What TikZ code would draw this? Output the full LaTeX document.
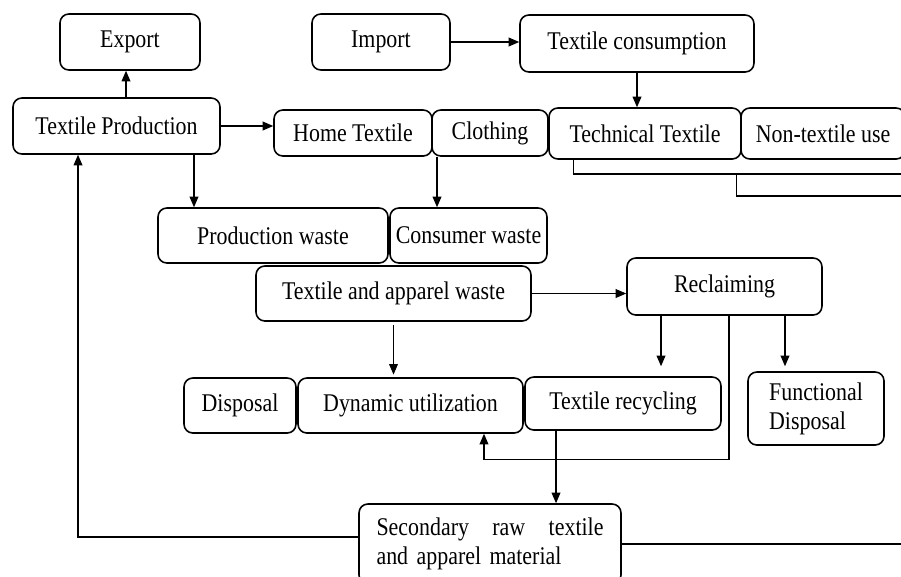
\documentclass[tikz,border=0pt]{standalone}
\usepackage{fontspec}
\setmainfont[FakeStretch=0.86]{Liberation Serif}
\usetikzlibrary{arrows.meta,calc}
\tikzset{
  box/.style={draw, rounded corners=5pt, line width=0.9pt, align=center, inner sep=2pt,
    font=\fontsize{14.5}{16.5}\selectfont},
  arr/.style={-{Triangle[length=6pt,width=5pt]}, line width=0.6pt},
  wire/.style={line width=0.6pt}
}
\begin{document}
\begin{tikzpicture}[x=0.02cm,y=-0.02cm]
\useasboundingbox (0,0) rectangle (901,576);
\clip (0,0) rectangle (901,576);
\fill[white] (0,0) rectangle (901,576);

\node[box,minimum width=2.8cm,minimum height=1.12cm] (exp) at (130,42) {Export};
\node[box,minimum width=2.76cm,minimum height=1.12cm] (imp) at (381,42) {Import};
\node[box,minimum width=4.68cm,minimum height=1.14cm] (tc) at (637,43.5) {Textile consumption};
\node[box,minimum width=4.14cm,minimum height=1.12cm] (tp) at (116.5,126) {Textile Production};
\node[box,minimum width=3.16cm,minimum height=0.92cm] (home) at (353,133) {Home Textile};
\node[box,minimum width=2.32cm,minimum height=0.92cm] (clo) at (490,133) {Clothing};
\node[box,minimum width=3.84cm,minimum height=1.02cm] (tech) at (645,133.5) {Technical Textile};
\node[box,minimum width=3.28cm,minimum height=1.02cm] (non) at (823,133.5) {Non-textile use};
\node[box,minimum width=4.6cm,minimum height=1.1cm] (pw) at (273,235.5) {Production waste};
\node[box,minimum width=3.14cm,minimum height=1.1cm] (cw) at (468.5,235.5) {Consumer waste};
\node[box,minimum width=5.5cm,minimum height=1.1cm] (taw) at (393.5,293.5) {Textile and apparel waste};
\node[box,minimum width=3.9cm,minimum height=1.14cm] (rec) at (724.5,286.5) {Reclaiming};
\node[box,minimum width=2.24cm,minimum height=1.1cm] (disp) at (240,405.5) {Disposal};
\node[box,minimum width=4.5cm,minimum height=1.1cm] (dyn) at (410.5,405.5) {Dynamic utilization};
\node[box,minimum width=3.92cm,minimum height=1.06cm] (trec) at (623,403.5) {Textile recycling};
\node[box,minimum width=2.72cm,minimum height=1.46cm,align=left] (fdisp) at (816,408.5) {Functional\\Disposal};
\node[box,minimum width=5.24cm,minimum height=1.6cm,text width=4.54cm,align=left] (sec) at (490,544)
  {Secondary\hfill raw\hfill textile\\and apparel material};

\coordinate (edge1) at (905,174);
\coordinate (edge2) at (905,196);
\coordinate (edge3) at (905,542);

\draw[arr] ([xshift=-0.08cm]tp.north -| exp.south) -- ([xshift=-0.08cm]exp.south);
\draw[arr] (tp.east) -- (tp.east -| home.west);
\draw[arr] ([xshift=1.55cm]tp.south) -- ([xshift=1.55cm]tp.south |- pw.north);
\draw[arr] ([xshift=-1.06cm]clo.south) -- ([xshift=-1.06cm]clo.south |- cw.north);
\draw[arr] (imp.east) -- (imp.east -| tc.west);
\draw[arr] (tc.south) -- (tc.south |- tech.north);

\draw[wire] ([xshift=0.5cm]tech.south west) |- (edge1);
\draw[wire] ($(tech.south west)+(188,15)$) |- (edge2);

\draw[arr,shorten >=1.5pt] ([yshift=-0.06cm]taw.south) -- (taw.south |- dyn.north);
\draw[arr] (taw.east) -- (taw.east -| rec.west);
\draw[arr,shorten >=0.2cm] ([xshift=-1.27cm]rec.south) -- ([xshift=-1.27cm]rec.south |- trec.north);
\draw[arr,shorten >=0.1cm] ([xshift=1.21cm]rec.south) -- ([xshift=1.21cm]rec.south |- fdisp.north);
\draw[arr] ([xshift=0.09cm]rec.south) -- ++(0,144) -| ([xshift=1.47cm]dyn.south);
\draw[arr] ([xshift=-1.34cm]trec.south) -- ([xshift=-1.34cm]trec.south |- sec.north);
\draw[arr] ([yshift=0.14cm]sec.west) -| ([xshift=-0.77cm]tp.south);
\draw[wire] (sec.east) -- (sec.east -| edge3);
\end{tikzpicture}
\end{document}
